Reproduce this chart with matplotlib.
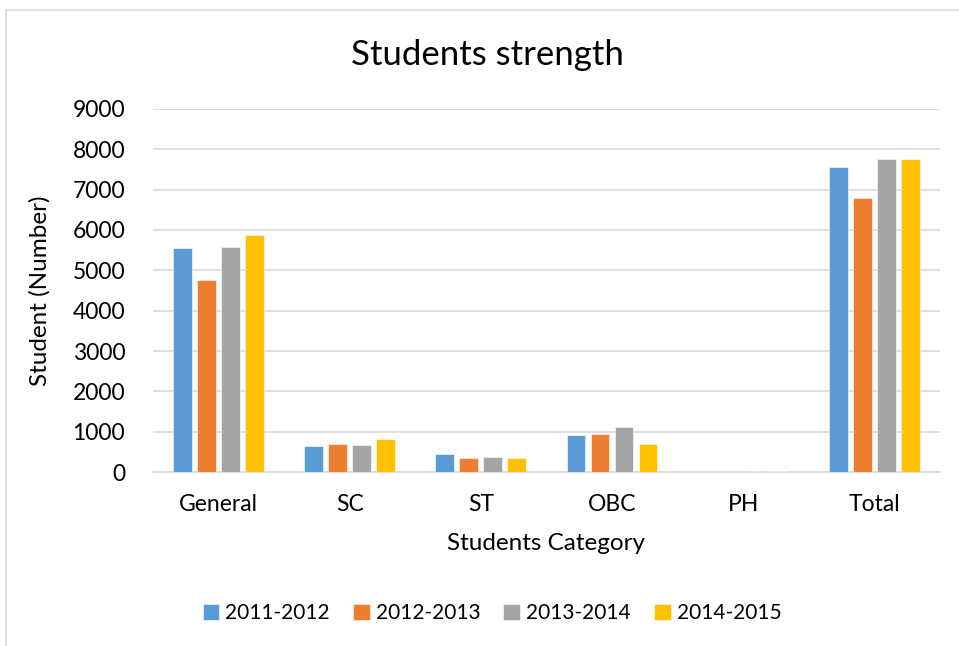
import matplotlib
matplotlib.use("Agg")
import matplotlib.pyplot as plt
import numpy as np
from matplotlib.patches import Rectangle

plt.rcParams["font.family"] = ["Lato", "DejaVu Sans"]

CATEGORIES = ["General", "SC", "ST", "OBC", "PH", "Total"]
YEARS = ["2011-2012", "2012-2013", "2013-2014", "2014-2015"]
Y2011 = [5550, 650, 440, 910, 5, 7570]
Y2012 = [4770, 700, 350, 955, 5, 6800]
Y2013 = [5570, 658, 385, 1105, 15, 7750]
Y2014 = [5870, 808, 360, 700, 15, 7765]
SERIES = [Y2011, Y2012, Y2013, Y2014]
COLORS = ["#5b9bd5", "#ed7d31", "#a5a5a5", "#ffc000"]

fig = plt.figure(figsize=(9.59, 6.46), dpi=100)
ax = fig.add_axes([0.1595, 0.2693, 0.8205, 0.562])

# chart frame
fig.patches.append(Rectangle((0.006, -0.01), 1.1, 0.995, transform=fig.transFigure,
                             fill=False, edgecolor="#d9d9d9", lw=1.2))

x = np.arange(len(CATEGORIES))
step, width = 0.183, 0.143
for i, (vals, lab, col) in enumerate(zip(SERIES, YEARS, COLORS)):
    ax.bar(x + (i - 1.5) * step, vals, width, color=col, label=lab,
           edgecolor="white", linewidth=0.4, zorder=3)

ax.set_xlim(-0.5, len(CATEGORIES) - 0.5)
ax.set_ylim(0, 9000)
ax.set_yticks(np.arange(0, 9001, 1000))
ax.set_xticks(x)
ax.set_xticklabels(CATEGORIES)
ax.yaxis.grid(True, color="#d9d9d9", lw=1.2, zorder=0)
for s in ["top", "right", "left"]:
    ax.spines[s].set_visible(False)
ax.spines["bottom"].set_color("#d9d9d9")
ax.spines["bottom"].set_linewidth(1.2)
ax.tick_params(axis="both", length=0, labelsize=16.5, colors="black")
ax.tick_params(axis="y", pad=20)
ax.tick_params(axis="x", pad=16)

fig.text(0.508, 0.915, "Students strength", fontsize=25, ha="center", va="center")
ax.set_xlabel("Students Category", fontsize=17.5, labelpad=13)
ax.set_ylabel("Student (Number)", fontsize=17.5, labelpad=16)

fig.legend(loc="center", bbox_to_anchor=(0.513, 0.051), ncol=4, frameon=False,
           fontsize=15, handlelength=0.8, handleheight=0.8, handletextpad=0.3,
           columnspacing=1.1)

fig.savefig("out.png", dpi=100)
